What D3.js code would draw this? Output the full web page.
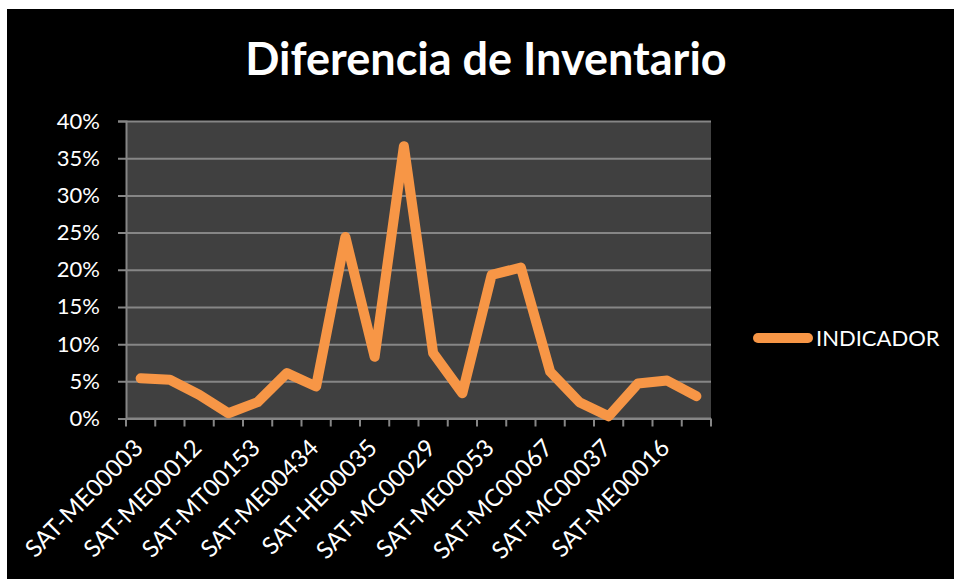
<!DOCTYPE html>
<html>
<head>
<meta charset="utf-8">
<script src="https://cdn.jsdelivr.net/npm/d3@7"></script>
<style>
  html, body { margin: 0; padding: 0; background: #fff; }
  svg { display: block; }
  text { font-family: Lato, "Open Sans", sans-serif; fill: #fff; }
</style>
</head>
<body>
<div id="app"></div>
<script>
// shown tick labels (every other category is labelled)
const tickLabels = [
  "SAT-ME00003", "SAT-ME00012", "SAT-MT00153", "SAT-ME00434", "SAT-HE00035",
  "SAT-MC00029", "SAT-ME00053", "SAT-MC00067", "SAT-MC00037", "SAT-ME00016"
];
// INDICADOR, one value per category (fraction)
const values = [
  0.054, 0.052, 0.032, 0.007, 0.022, 0.061, 0.043, 0.244, 0.083, 0.366,
  0.088, 0.034, 0.193, 0.203, 0.063, 0.022, 0.003, 0.047, 0.051, 0.030
];
const yTicks = [0, 0.05, 0.1, 0.15, 0.2, 0.25, 0.3, 0.35, 0.4];
const seriesName = "INDICADOR";
const title = "Diferencia de Inventario";

const W = 954, H = 579;
const plot = { left: 126, right: 711, top: 121, bottom: 418.5 };
const orange = "#F79646";

const svg = d3.select("#app").append("svg").attr("width", W).attr("height", H);

svg.append("rect").attr("x", 7).attr("y", 9).attr("width", W - 7).attr("height", H - 9).attr("fill", "#000");

const x = d3.scaleBand()
  .domain(d3.range(values.length))
  .range([plot.left, plot.right]);
const y = d3.scaleLinear().domain([0, 0.4]).range([plot.bottom, plot.top]);

svg.append("rect")
  .attr("x", plot.left).attr("y", plot.top)
  .attr("width", plot.right - plot.left).attr("height", plot.bottom - plot.top)
  .attr("fill", "#404040");

// y axis with gridlines
const yAxis = svg.append("g")
  .attr("transform", `translate(${plot.left},0)`)
  .call(d3.axisLeft(y).tickValues(yTicks).tickFormat(d3.format(".0%")).tickSize(8).tickPadding(18));
yAxis.select(".domain").attr("stroke", "#868686").attr("stroke-width", 2);
yAxis.selectAll(".tick line").attr("stroke", "#868686").attr("stroke-width", 2)
  .attr("x2", plot.right - plot.left).attr("x1", -8);
yAxis.selectAll(".tick text").attr("font-size", 22).attr("fill", "#fff");

// x axis: ticks between categories
const bounds = d3.range(values.length + 1).map(i => plot.left + i * x.bandwidth());
svg.append("g").selectAll("line").data(bounds).join("line")
  .attr("x1", d => d).attr("x2", d => d)
  .attr("y1", plot.bottom).attr("y2", plot.bottom + 8)
  .attr("stroke", "#868686").attr("stroke-width", 2);
svg.append("line")
  .attr("x1", plot.left).attr("x2", plot.right)
  .attr("y1", plot.bottom).attr("y2", plot.bottom)
  .attr("stroke", "#868686").attr("stroke-width", 2);

svg.append("g").selectAll("text").data(tickLabels).join("text")
  .attr("transform", (d, i) => {
    const cx = x(i * 2) + x.bandwidth() / 2;
    return `translate(${cx + 4},${plot.bottom + 31}) rotate(-45)`;
  })
  .attr("text-anchor", "end")
  .attr("font-size", 24)
  .text(d => d);

// series line
const line = d3.line()
  .x((d, i) => x(i) + x.bandwidth() / 2)
  .y(d => y(d));
svg.append("path")
  .datum(values)
  .attr("d", line)
  .attr("fill", "none")
  .attr("stroke", orange)
  .attr("stroke-width", 10)
  .attr("stroke-linejoin", "round")
  .attr("stroke-linecap", "round");

// legend
svg.append("line")
  .attr("x1", 758).attr("x2", 808).attr("y1", 338).attr("y2", 338)
  .attr("stroke", orange).attr("stroke-width", 10).attr("stroke-linecap", "round");
svg.append("text").attr("x", 816).attr("y", 346).attr("font-size", 22).text(seriesName);

// title
svg.append("text")
  .attr("x", 486).attr("y", 75)
  .attr("text-anchor", "middle")
  .attr("font-size", 45)
  .attr("font-weight", "bold")
  .text(title);
</script>
</body>
</html>
